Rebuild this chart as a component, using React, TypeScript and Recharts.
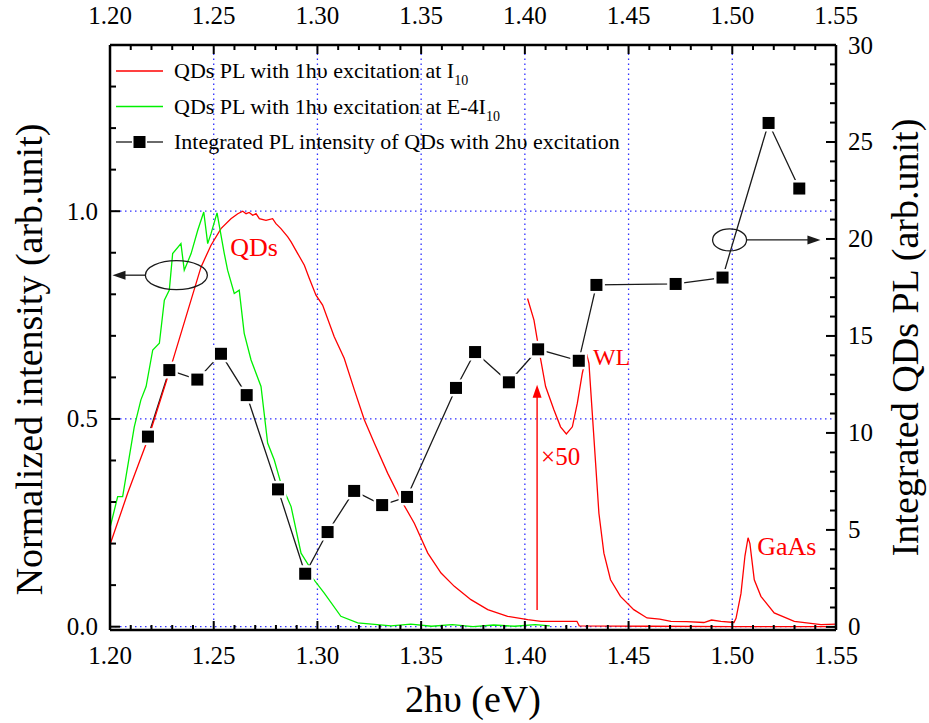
import React from "react";
import {
  ComposedChart,
  Line,
  XAxis,
  YAxis,
  Label,
  Legend,
  ReferenceLine,
  ReferenceDot,
} from "recharts";

const FONT = '"Liberation Serif", "Times New Roman", serif';
const RED = "#ff0000";
const GREEN = "#00f000";
const INK = "#1a1a1a";

// QD PL, 1hυ excitation at I10 (normalized, left axis)
const qdsI10: [number, number][] = [
  [1.2, 0.197], [1.2085, 0.321], [1.2187, 0.457], [1.2289, 0.618], [1.2439, 0.866],
  [1.2487, 0.918], [1.2535, 0.958], [1.2583, 0.982], [1.2616, 0.994], [1.264, 1.0],
  [1.2656, 0.994], [1.2671, 0.997], [1.2688, 0.99], [1.2704, 0.994], [1.272, 0.982],
  [1.2752, 0.978], [1.2784, 0.982], [1.28, 0.97], [1.2824, 0.958], [1.2857, 0.938],
  [1.2873, 0.926], [1.2905, 0.898], [1.2937, 0.87], [1.2961, 0.838], [1.2993, 0.798],
  [1.3025, 0.774], [1.3081, 0.698], [1.3129, 0.646], [1.3178, 0.57], [1.3226, 0.498],
  [1.3274, 0.442], [1.3339, 0.369], [1.3403, 0.305], [1.3467, 0.249], [1.3532, 0.177],
  [1.3596, 0.129], [1.366, 0.097], [1.374, 0.065], [1.3821, 0.041], [1.3917, 0.025],
  [1.4014, 0.017], [1.4078, 0.013], [1.4251, 0.013], [1.4262, 0.002], [1.46, 0.001],
  [1.5, 0.0], [1.55, 0.0],
];

// WL + GaAs part of the same spectrum, multiplied by 50
const wlGaAsX50: [number, number][] = [
  [1.4013, 0.79], [1.4044, 0.738], [1.4068, 0.666], [1.41, 0.578], [1.414, 0.522],
  [1.4172, 0.481], [1.42, 0.464], [1.4229, 0.481], [1.4253, 0.538], [1.4277, 0.61],
  [1.4298, 0.656], [1.4309, 0.634], [1.4325, 0.514], [1.4341, 0.394], [1.4357, 0.273],
  [1.4381, 0.177], [1.4413, 0.113], [1.4461, 0.073], [1.4525, 0.041], [1.4589, 0.021],
  [1.465, 0.018], [1.4704, 0.013], [1.478, 0.012], [1.4863, 0.01], [1.49, 0.016],
  [1.4945, 0.013], [1.5008, 0.01], [1.5018, 0.02], [1.5042, 0.08], [1.5061, 0.17],
  [1.5076, 0.214], [1.5085, 0.2], [1.5106, 0.113], [1.5138, 0.073], [1.5202, 0.033],
  [1.5299, 0.013], [1.5428, 0.005], [1.55, 0.006],
];

// QD PL, 1hυ excitation at E-4 I10 (normalized, left axis)
const qdsE4I10: [number, number][] = [
  [1.2, 0.238], [1.2037, 0.313], [1.2061, 0.313], [1.2117, 0.481], [1.2149, 0.546],
  [1.2174, 0.578], [1.2206, 0.666], [1.2238, 0.682], [1.2262, 0.786], [1.2286, 0.81],
  [1.2302, 0.898], [1.2342, 0.922], [1.2358, 0.858], [1.2391, 0.898], [1.2423, 0.954],
  [1.2452, 0.998], [1.2471, 0.922], [1.2487, 0.946], [1.2516, 0.996], [1.2551, 0.898],
  [1.2567, 0.858], [1.2599, 0.802], [1.2623, 0.81], [1.2647, 0.706], [1.268, 0.642],
  [1.2728, 0.578], [1.276, 0.442], [1.2792, 0.401], [1.2824, 0.345], [1.2873, 0.289],
  [1.2921, 0.177], [1.2961, 0.145], [1.2977, 0.117], [1.3033, 0.081], [1.3113, 0.025],
  [1.3194, 0.009], [1.3355, 0.002], [1.345, 0.006], [1.355, 0.001], [1.365, 0.005],
  [1.375, 0.0], [1.385, 0.004], [1.395, 0.001], [1.405, 0.005], [1.412, 0.002],
];

// integrated QD PL under 2hυ excitation (right axis)
const integrated2hv: [number, number][] = [
  [1.2183, 9.81], [1.2286, 13.24], [1.2421, 12.75], [1.2535, 14.08], [1.2659, 11.95],
  [1.281, 7.09], [1.2941, 2.74], [1.3049, 4.89], [1.3177, 7.01], [1.3312, 6.28],
  [1.3432, 6.7], [1.3668, 12.32], [1.376, 14.17], [1.3923, 12.61], [1.4064, 14.31],
  [1.426, 13.72], [1.4345, 17.63], [1.4727, 17.68], [1.4953, 18.01], [1.5175, 25.98],
  [1.5323, 22.6],
];

const xTicks = [
  1.2, 1.21, 1.22, 1.23, 1.24, 1.25, 1.26, 1.27, 1.28, 1.29, 1.3, 1.31, 1.32, 1.33, 1.34, 1.35,
  1.36, 1.37, 1.38, 1.39, 1.4, 1.41, 1.42, 1.43, 1.44, 1.45, 1.46, 1.47, 1.48, 1.49, 1.5,
  1.51, 1.52, 1.53, 1.54, 1.55,
];
const xMajor = [1.2, 1.25, 1.3, 1.35, 1.4, 1.45, 1.5, 1.55];
const leftTicks = [0, 0.1, 0.2, 0.3, 0.4, 0.5, 0.6, 0.7, 0.8, 0.9, 1.0, 1.1, 1.2, 1.3];
const leftMajor = [0, 0.5, 1.0];
const rightTicks = [
  0, 1, 2, 3, 4, 5, 6, 7, 8, 9, 10, 11, 12, 13, 14, 15, 16, 17, 18, 19, 20, 21, 22, 23, 24,
  25, 26, 27, 28, 29, 30,
];
const rightMajor = [0, 5, 10, 15, 20, 25, 30];
const gridX = [1.25, 1.3, 1.35, 1.4, 1.45, 1.5];
const gridY = [0, 0.5, 1.0];

const toPoints = (rows: [number, number][]) => rows.map(([x, y]) => ({ x, y }));
const isIn = (list: number[], v: number) => list.some((m) => Math.abs(m - v) < 1e-6);

const TICK_FONT = 25;
const TITLE_FONT = 38;

function BottomTick({ x, y, payload }: any) {
  const major = isIn(xMajor, payload.value);
  return (
    <g>
      <line x1={x} x2={x} y1={y} y2={y - (major ? 9 : 5)} stroke="#000" strokeWidth={2} />
      {major && (
        <text x={x} y={y + 34} textAnchor="middle" fontSize={TICK_FONT} fontFamily={FONT} fill="#000">
          {payload.value.toFixed(2)}
        </text>
      )}
    </g>
  );
}

function TopTick({ x, y, payload }: any) {
  const major = isIn(xMajor, payload.value);
  return (
    <g>
      <line x1={x} x2={x} y1={y} y2={y + (major ? 9 : 5)} stroke="#000" strokeWidth={2} />
      {major && (
        <text x={x} y={y - 21} textAnchor="middle" fontSize={TICK_FONT} fontFamily={FONT} fill="#000">
          {payload.value.toFixed(2)}
        </text>
      )}
    </g>
  );
}

function LeftTick({ x, y, payload }: any) {
  const major = isIn(leftMajor, payload.value);
  return (
    <g>
      <line x1={x} x2={x + (major ? 10 : 6)} y1={y} y2={y} stroke="#000" strokeWidth={2} />
      {major && (
        <text x={x - 12} y={y + 8.5} textAnchor="end" fontSize={TICK_FONT} fontFamily={FONT} fill="#000">
          {payload.value.toFixed(1)}
        </text>
      )}
    </g>
  );
}

function RightTick({ x, y, payload }: any) {
  const major = isIn(rightMajor, payload.value);
  return (
    <g>
      <line x1={x} x2={x - (major ? 10 : 6)} y1={y} y2={y} stroke="#000" strokeWidth={2} />
      {major && (
        <text x={x + 12} y={y + 8.5} textAnchor="start" fontSize={TICK_FONT} fontFamily={FONT} fill="#000">
          {String(payload.value)}
        </text>
      )}
    </g>
  );
}

// rotated axis title; shift moves it along the axis from the plot centre
const verticalTitle = (text: string, baselineX: number, shift: number) => (props: any) => {
  const vb = props.viewBox;
  const cy = vb.y + vb.height / 2 + shift;
  return (
    <text
      transform={`translate(${baselineX}, ${cy}) rotate(-90)`}
      textAnchor="middle"
      fontSize={TITLE_FONT}
      fontFamily={FONT}
      fill="#000"
    >
      {text}
    </text>
  );
};

const bottomTitle = (props: any) => {
  const vb = props.viewBox;
  return (
    <text x={vb.x + vb.width / 2} y={712} textAnchor="middle" fontSize={TITLE_FONT} fontFamily={FONT} fill="#000">
      2hυ (eV)
    </text>
  );
};

const squareDot = (halo: boolean) => (p: any) => {
  if (p.cx == null || p.cy == null) return <g key={`sq-${p.index}`} />;
  return (
    <rect
      key={`sq-${halo ? "h" : "f"}-${p.index}`}
      x={p.cx - 6}
      y={p.cy - 6}
      width={12}
      height={12}
      fill="#000"
      stroke={halo ? "#fff" : "none"}
      strokeWidth={halo ? 5 : 0}
    />
  );
};

const ellipseShape = (rx: number, ry: number) => (p: any) => (
  <ellipse cx={p.cx} cy={p.cy} rx={rx} ry={ry} fill="none" stroke={INK} strokeWidth={1.3} />
);

const arrowHead = (dir: "left" | "right" | "up", color: string) => (p: any) => {
  const { cx, cy } = p;
  const len = 13;
  const half = 4.5;
  let pts = "";
  if (dir === "left") pts = `${cx},${cy} ${cx + len},${cy - half} ${cx + len},${cy + half}`;
  if (dir === "right") pts = `${cx},${cy} ${cx - len},${cy - half} ${cx - len},${cy + half}`;
  if (dir === "up") pts = `${cx},${cy} ${cx - half},${cy + len} ${cx + half},${cy + len}`;
  return <polygon points={pts} fill={color} />;
};

const textShape = (text: string, size: number) => (p: any) => (
  <text x={p.cx} y={p.cy} dy="0.35em" fontSize={size} fontFamily={FONT} fill={RED}>
    {text}
  </text>
);

const legendRows = [
  { key: "i10", color: RED, text: "QDs PL with 1hυ excitation at I", sub: "10", marker: false },
  { key: "e4", color: GREEN, text: "QDs PL with 1hυ excitation at E-4I", sub: "10", marker: false },
  { key: "int", color: INK, text: "Integrated PL intensity of QDs with 2hυ excitation", sub: "", marker: true },
];

function PlotLegend() {
  return (
    <svg width={560} height={120} style={{ display: "block", overflow: "visible" }}>
      {legendRows.map((row, i) => {
        const y = 21 + i * 35.5;
        return (
          <g key={row.key}>
            {row.marker ? (
              <>
                <line x1={16} x2={32} y1={y} y2={y} stroke={row.color} strokeWidth={1.3} />
                <line x1={47} x2={63} y1={y} y2={y} stroke={row.color} strokeWidth={1.3} />
                <rect x={33.5} y={y - 6} width={12} height={12} fill="#000" />
              </>
            ) : (
              <line x1={16} x2={63} y1={y} y2={y} stroke={row.color} strokeWidth={1.4} />
            )}
            <text x={74} y={y + 7} fontSize={22} fontFamily={FONT} fill="#000">
              {row.text}
              {row.sub && (
                <tspan fontSize={14} dy={7}>
                  {row.sub}
                </tspan>
              )}
            </text>
          </g>
        );
      })}
    </svg>
  );
}

export default function App() {
  const axisLine = { stroke: "#000", strokeWidth: 2.5 };
  return (
    <div style={{ position: "absolute", left: 0, top: 0, width: 929, height: 723, background: "#fff" }}>
      <ComposedChart width={929} height={723} margin={{ top: 0, right: 0, bottom: 0, left: 0 }}>
        <XAxis
          xAxisId="bottom"
          type="number"
          dataKey="x"
          domain={[1.2, 1.55]}
          ticks={xTicks}
          interval={0}
          tick={<BottomTick />}
          tickLine={false}
          tickSize={0}
          tickMargin={0}
          axisLine={axisLine}
          height={93}
          allowDataOverflow
        >
          <Label content={bottomTitle} />
        </XAxis>
        <XAxis
          xAxisId="top"
          orientation="top"
          type="number"
          dataKey="x"
          domain={[1.2, 1.55]}
          ticks={xTicks}
          interval={0}
          tick={<TopTick />}
          tickLine={false}
          tickSize={0}
          tickMargin={0}
          axisLine={axisLine}
          height={45}
          allowDataOverflow
        />
        <YAxis
          yAxisId="left"
          type="number"
          domain={[-0.008, 1.4]}
          ticks={leftTicks}
          interval={0}
          tick={<LeftTick />}
          tickLine={false}
          tickSize={0}
          tickMargin={0}
          axisLine={axisLine}
          width={110}
          allowDataOverflow
        >
          <Label content={verticalTitle("Normalized intensity (arb.unit)", 42, 22)} />
        </YAxis>
        <YAxis
          yAxisId="right"
          orientation="right"
          type="number"
          domain={[-0.16, 30]}
          ticks={rightTicks}
          interval={0}
          tick={<RightTick />}
          tickLine={false}
          tickSize={0}
          tickMargin={0}
          axisLine={axisLine}
          width={93}
          allowDataOverflow
        >
          <Label content={verticalTitle("Integrated QDs PL (arb.unit)", 918, 0)} />
        </YAxis>

        {gridX.map((v) => (
          <ReferenceLine
            key={`gx-${v}`}
            x={v}
            xAxisId="bottom"
            yAxisId="left"
            stroke="#2f2fff"
            strokeWidth={1.3}
            strokeDasharray="1.5 3.5"
          />
        ))}
        {gridY.map((v) => (
          <ReferenceLine
            key={`gy-${v}`}
            y={v}
            xAxisId="bottom"
            yAxisId="left"
            stroke="#2f2fff"
            strokeWidth={1.3}
            strokeDasharray="1.5 3.5"
          />
        ))}

        <Line
          xAxisId="bottom"
          yAxisId="right"
          data={toPoints(integrated2hv)}
          dataKey="y"
          type="linear"
          stroke={INK}
          strokeWidth={1.3}
          dot={squareDot(true)}
          activeDot={false}
          isAnimationActive={false}
        />
        <Line
          xAxisId="bottom"
          yAxisId="left"
          data={toPoints(qdsI10)}
          dataKey="y"
          type="linear"
          stroke={RED}
          strokeWidth={1.3}
          dot={false}
          activeDot={false}
          isAnimationActive={false}
        />
        <Line
          xAxisId="bottom"
          yAxisId="left"
          data={toPoints(wlGaAsX50)}
          dataKey="y"
          type="linear"
          stroke={RED}
          strokeWidth={1.3}
          dot={false}
          activeDot={false}
          isAnimationActive={false}
        />
        <Line
          xAxisId="bottom"
          yAxisId="left"
          data={toPoints(qdsE4I10)}
          dataKey="y"
          type="linear"
          stroke={GREEN}
          strokeWidth={1.3}
          dot={false}
          activeDot={false}
          isAnimationActive={false}
        />
        <Line
          xAxisId="bottom"
          yAxisId="right"
          data={toPoints(integrated2hv)}
          dataKey="y"
          type="linear"
          stroke="none"
          dot={squareDot(false)}
          activeDot={false}
          isAnimationActive={false}
        />

        {/* ellipse + arrow pointing to the left axis */}
        <ReferenceDot xAxisId="bottom" yAxisId="left" x={1.232} y={0.846} r={1} shape={ellipseShape(31, 14.5)} ifOverflow="visible" />
        <ReferenceLine
          xAxisId="bottom"
          yAxisId="left"
          segment={[{ x: 1.2171, y: 0.846 }, { x: 1.2055, y: 0.846 }]}
          stroke={INK}
          strokeWidth={1.3}
        />
        <ReferenceDot xAxisId="bottom" yAxisId="left" x={1.2012} y={0.846} r={1} shape={arrowHead("left", INK)} ifOverflow="visible" />

        {/* ellipse + arrow pointing to the right axis */}
        <ReferenceDot xAxisId="bottom" yAxisId="right" x={1.4987} y={19.95} r={1} shape={ellipseShape(17, 11)} ifOverflow="visible" />
        <ReferenceLine
          xAxisId="bottom"
          yAxisId="right"
          segment={[{ x: 1.5069, y: 19.95 }, { x: 1.537, y: 19.95 }]}
          stroke={INK}
          strokeWidth={1.3}
        />
        <ReferenceDot xAxisId="bottom" yAxisId="right" x={1.5425} y={19.95} r={1} shape={arrowHead("right", INK)} ifOverflow="visible" />

        {/* ×50 marker */}
        <ReferenceLine
          xAxisId="bottom"
          yAxisId="left"
          segment={[{ x: 1.4059, y: 0.04 }, { x: 1.4059, y: 0.56 }]}
          stroke={RED}
          strokeWidth={1.4}
        />
        <ReferenceDot xAxisId="bottom" yAxisId="left" x={1.4059} y={0.582} r={1} shape={arrowHead("up", RED)} ifOverflow="visible" />

        <ReferenceDot xAxisId="bottom" yAxisId="left" x={1.258} y={0.914} r={1} shape={textShape("QDs", 26)} ifOverflow="visible" />
        <ReferenceDot xAxisId="bottom" yAxisId="left" x={1.4328} y={0.649} r={1} shape={textShape("WL", 24)} ifOverflow="visible" />
        <ReferenceDot xAxisId="bottom" yAxisId="left" x={1.4078} y={0.411} r={1} shape={textShape("×50", 25)} ifOverflow="visible" />
        <ReferenceDot xAxisId="bottom" yAxisId="left" x={1.512} y={0.194} r={1} shape={textShape("GaAs", 26)} ifOverflow="visible" />

        <Legend
          content={<PlotLegend />}
          layout="horizontal"
          verticalAlign="middle"
          align="center"
          wrapperStyle={{ left: 100, top: 50, width: 560, height: 120 }}
        />
      </ComposedChart>
    </div>
  );
}
